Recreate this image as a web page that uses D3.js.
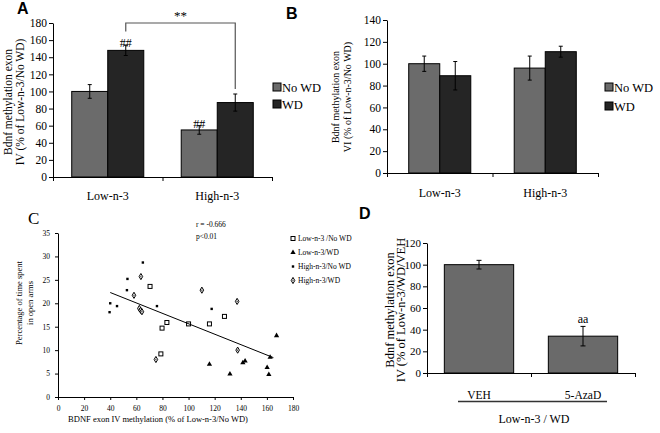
<!DOCTYPE html>
<html>
<head>
<meta charset="utf-8">
<script src="https://cdn.jsdelivr.net/npm/d3@7"></script>
<style>
  body { margin: 0; background: #fff; }
  svg text { font-family: "Liberation Serif", "Times New Roman", serif; fill: #000; }
  .panel-label { font-family: "Liberation Sans", Arial, sans-serif; font-weight: bold; }
</style>
</head>
<body>
<svg id="fig" width="660" height="433"></svg>
<script>
// ---- data ----
const groups = ['Low-n-3', 'High-n-3'];
const diets = ['No WD', 'WD'];
const dietColors = ['#6b6b6b', '#252525'];

// panel A: exon IV methylation (% of Low-n-3/No WD)
const exonIV = [[100, 148], [55, 87]];
const exonIVErr = [[8, 6], [5, 10]];
const exonIVMarks = [['', '##'], ['##', '']];
const ticksA = [0, 20, 40, 60, 80, 100, 120, 140, 160, 180];

// panel B: exon VI methylation
const exonVI = [[100, 89], [96, 111]];
const exonVIErr = [[7, 13], [11, 5]];
const ticksB = [0, 20, 40, 60, 80, 100, 120, 140];

// panel C: scatter, methylation (x) vs % time in open arms (y)
const lowNoWD = [[70.5, 23.6], [83.4, 15.9], [79.7, 14.7], [78.8, 9.2], [100, 15.6], [116, 15.6], [127.5, 17.2]];
const lowWD = [[116, 7.0], [131.7, 4.9], [141.6, 7.3], [143.3, 7.7], [160.2, 6.3], [161.5, 4.8], [162.5, 8.5], [167.4, 13.1]];
const highNoWD = [[65, 28.7], [40, 20.0], [39.5, 18.1], [45.2, 19.4], [53.2, 25.2], [52.8, 22.8], [75.8, 19.4], [117.7, 18.8]];
const highWD = [[63.5, 25.7], [58.2, 21.7], [62.3, 18.9], [63.3, 18.5], [64.3, 18.2], [75, 8.0], [110.2, 22.8], [137.2, 20.4], [137.6, 10.0]];
const trend = [[40, 22.3], [165, 8.4]];
const scatterNames = ['Low-n-3 /No WD', 'Low-n-3/WD', 'High-n-3/No WD', 'High-n-3/WD'];
const ticksCx = [0, 20, 40, 60, 80, 100, 120, 140, 160, 180];
const ticksCy = [0, 5, 10, 15, 20, 25, 30, 35];
const statsC = ['r = -0.666', 'p<0.01'];

// panel D: 5-AzaD treatment
const treatments = ['VEH', '5-AzaD'];
const treatVals = [100, 34];
const treatErr = [4, 9];
const treatMarks = ['', 'aa'];
const ticksD = [0, 20, 40, 60, 80, 100, 120];

const svg = d3.select('#fig');

function yAxis(g, y, ticks, size) {
  g.call(d3.axisLeft(y).tickValues(ticks).tickSize(4).tickSizeOuter(0).tickPadding(2));
  g.selectAll('text').style('font-size', size + 'px').attr('fill', '#000');
  g.selectAll('path,line').attr('stroke', '#000');
}

function catAxis(g, x0, x1, n, yPos) {
  const s = d3.scaleLinear().domain([0, n]).range([x0, x1]);
  g.attr('transform', `translate(0,${yPos})`)
   .call(d3.axisBottom(s).tickValues(d3.range(n + 1)).tickFormat('').tickSize(4).tickSizeOuter(0));
  g.selectAll('path,line').attr('stroke', '#000');
}

function errorBar(g, x, yTop, yBot, cap) {
  g.append('line').attr('x1', x).attr('x2', x).attr('y1', yTop).attr('y2', yBot).attr('stroke', '#000');
  g.append('line').attr('x1', x - cap).attr('x2', x + cap).attr('y1', yTop).attr('y2', yTop).attr('stroke', '#000');
  g.append('line').attr('x1', x - cap).attr('x2', x + cap).attr('y1', yBot).attr('y2', yBot).attr('stroke', '#000');
}

function groupedBars(cfg) {
  const g = svg.append('g');
  const x0 = d3.scaleBand().domain(groups).range(cfg.xRange);
  const x1 = d3.scaleBand().domain(diets).range([0, x0.bandwidth()]).paddingOuter(cfg.pad);
  const y = d3.scaleLinear().domain(cfg.yDomain).range(cfg.yRange);

  groups.forEach((grp, i) => {
    diets.forEach((d, j) => {
      const v = cfg.values[i][j], e = cfg.errors[i][j];
      const bx = x0(grp) + x1(d);
      g.append('rect')
        .attr('x', bx).attr('y', y(v))
        .attr('width', x1.bandwidth()).attr('height', y(0) - y(v))
        .attr('fill', dietColors[j]).attr('stroke', '#000').attr('stroke-width', 1);
      errorBar(g, bx + x1.bandwidth() / 2, y(v + e), y(v - e), 2);
      if (cfg.marks && cfg.marks[i][j]) {
        g.append('text').attr('x', bx + x1.bandwidth() / 2).attr('y', y(v + e) + 2)
          .attr('text-anchor', 'middle').style('font-size', '12px').text(cfg.marks[i][j]);
      }
    });
    g.append('text').attr('x', x0(grp) + x0.bandwidth() / 2).attr('y', cfg.labelY)
      .attr('text-anchor', 'middle').style('font-size', '12px').text(grp);
  });

  yAxis(g.append('g').attr('transform', `translate(${cfg.xRange[0]},0)`), y, cfg.ticks, 11.5);
  catAxis(g.append('g'), cfg.xRange[0], cfg.xRange[1], groups.length, y(0));

  // legend
  diets.forEach((d, j) => {
    const ly = cfg.legendY[j];
    g.append('rect').attr('x', cfg.legendX).attr('y', ly - 4).attr('width', 8).attr('height', 8)
      .attr('fill', dietColors[j]).attr('stroke', '#000');
    g.append('text').attr('x', cfg.legendX + 9).attr('y', ly + 5).style('font-size', '12.5px').text(d);
  });

  // y label
  const lab = g.append('text').attr('transform', `translate(${cfg.yLabelX},${cfg.yLabelMid}) rotate(-90)`)
    .attr('text-anchor', 'middle').style('font-size', cfg.yLabelSize + 'px');
  cfg.yLabel.forEach((t, k) => lab.append('tspan').attr('x', 0).attr('dy', k === 0 ? 0 : cfg.yLabelGap + 'px').text(t));
  return { x0, x1, y, g };
}

// ---- panel A ----
const A = groupedBars({
  xRange: [53, 272], pad: 0.52, yDomain: [0, 180], yRange: [177, 23],
  values: exonIV, errors: exonIVErr, marks: exonIVMarks, ticks: ticksA, labelY: 200,
  legendX: 273, legendY: [87, 104],
  yLabel: ['Bdnf methylation exon', 'IV (% of Low-n-3/No WD)'], yLabelX: 12, yLabelMid: 102, yLabelSize: 11.5, yLabelGap: 12
});
{
  const cx = (i, j) => A.x0(groups[i]) + A.x1(diets[j]) + A.x1.bandwidth() / 2;
  const pts = [[cx(0, 1), A.y(170)], [cx(0, 1), A.y(180)], [cx(1, 1), A.y(180)], [cx(1, 1), A.y(103)]];
  A.g.append('path').attr('d', d3.line()(pts)).attr('fill', 'none').attr('stroke', '#555').attr('stroke-width', 1.2);
  A.g.append('text').attr('x', (pts[1][0] + pts[2][0]) / 2).attr('y', A.y(180) - 3)
    .attr('text-anchor', 'middle').style('font-size', '13px').text('**');
}
svg.append('text').attr('class', 'panel-label').attr('x', 17).attr('y', 14).style('font-size', '16px').text('A');

// ---- panel B ----
groupedBars({
  xRange: [387, 598], pad: 0.70, yDomain: [0, 140], yRange: [173, 20],
  values: exonVI, errors: exonVIErr, ticks: ticksB, labelY: 197,
  legendX: 605, legendY: [87, 106],
  yLabel: ['Bdnf methylation exon', 'VI (% of Low-n-3/No WD)'], yLabelX: 339, yLabelMid: 97, yLabelSize: 10, yLabelGap: 12
});
svg.append('text').attr('class', 'panel-label').attr('x', 286).attr('y', 19).style('font-size', '16px').text('B');

// ---- panel C ----
{
  const g = svg.append('g');
  const x = d3.scaleLinear().domain([0, 180]).range([58, 293]);
  const y = d3.scaleLinear().domain([0, 35]).range([397, 233]);

  g.append('g').attr('transform', `translate(0,${y(0)})`)
    .call(d3.axisBottom(x).tickValues(ticksCx).tickSize(3).tickSizeOuter(0).tickPadding(6))
    .call(a => a.selectAll('text').style('font-size', '7.5px'));
  g.append('g').attr('transform', `translate(${x(0)},0)`)
    .call(d3.axisLeft(y).tickValues(ticksCy).tickSize(3).tickSizeOuter(0).tickPadding(5))
    .call(a => a.selectAll('text').style('font-size', '7.5px'));
  g.selectAll('path.domain, .tick line').attr('stroke', '#000');

  const markers = [
    (s, px, py) => s.append('rect').attr('x', px - 2).attr('y', py - 2).attr('width', 4).attr('height', 4)
      .attr('fill', '#fff').attr('stroke', '#000').attr('stroke-width', 1),
    (s, px, py) => s.append('path').attr('d', d3.symbol(d3.symbolTriangle, 12)()).attr('transform', `translate(${px},${py})`).attr('fill', '#000'),
    (s, px, py) => s.append('rect').attr('x', px - 1.2).attr('y', py - 1.2).attr('width', 2.4).attr('height', 2.4).attr('fill', '#000'),
    (s, px, py) => {
      s.append('path').attr('d', d3.symbol(d3.symbolDiamond, 11)()).attr('transform', `translate(${px},${py})`)
        .attr('fill', '#fff').attr('stroke', '#000').attr('stroke-width', 1);
      s.append('circle').attr('cx', px).attr('cy', py).attr('r', 0.6).attr('fill', '#000');
    }
  ];
  [lowNoWD, lowWD, highNoWD, highWD].forEach((series, k) => {
    series.forEach(p => markers[k](g, x(p[0]), y(p[1])));
  });

  g.append('path').attr('d', d3.line().x(d => x(d[0])).y(d => y(d[1]))(trend))
    .attr('stroke', '#000').attr('stroke-width', 1).attr('fill', 'none');

  statsC.forEach((t, k) => g.append('text').attr('x', 196).attr('y', 227 + k * 12).style('font-size', '7.5px').text(t));

  scatterNames.forEach((t, k) => {
    const ly = 241 + k * 14;
    markers[k](g, 293, ly - 2.5);
    g.append('text').attr('x', 298).attr('y', ly).style('font-size', '7.5px').text(t);
  });

  const yl = g.append('text').attr('transform', `translate(22,303) rotate(-90)`)
    .attr('text-anchor', 'middle').style('font-size', '8.5px');
  ['Percentage of time spent', 'in open arms'].forEach((t, k) => yl.append('tspan').attr('x', 0).attr('dy', k ? '1.3em' : 0).text(t));
  g.append('text').attr('x', 158).attr('y', 422).attr('text-anchor', 'middle').style('font-size', '8.5px')
    .text('BDNF exon IV methylation (% of Low-n-3/No WD)');
  g.append('text').attr('x', 28).attr('y', 224).style('font-size', '17px').text('C');
}

// ---- panel D ----
{
  const g = svg.append('g');
  const x = d3.scaleBand().domain(treatments).range([427, 635]).paddingInner(0);
  const y = d3.scaleLinear().domain([0, 120]).range([373, 243]);
  const inner = d3.scaleBand().domain([0]).range([0, x.bandwidth()]).paddingOuter(0.25);

  treatments.forEach((t, i) => {
    const bx = x(t) + inner(0), bw = inner.bandwidth();
    g.append('rect').attr('x', bx).attr('y', y(treatVals[i])).attr('width', bw).attr('height', y(0) - y(treatVals[i]))
      .attr('fill', '#6a6a6a').attr('stroke', '#000');
    errorBar(g, bx + bw / 2, y(treatVals[i] + treatErr[i]), y(treatVals[i] - treatErr[i]), 2.5);
    if (treatMarks[i]) g.append('text').attr('x', bx + bw / 2).attr('y', y(treatVals[i] + treatErr[i]) - 3)
      .attr('text-anchor', 'middle').style('font-size', '12px').text(treatMarks[i]);
    g.append('text').attr('x', bx + bw / 2).attr('y', 399).attr('text-anchor', 'middle').style('font-size', '11.5px').text(t);
  });
  yAxis(g.append('g').attr('transform', 'translate(427,0)'), y, ticksD, 11);
  catAxis(g.append('g'), 427, 635, treatments.length, y(0));

  g.append('line').attr('x1', 458).attr('x2', 607).attr('y1', 401.5).attr('y2', 401.5).attr('stroke', '#333').attr('stroke-width', 1.5);
  g.append('text').attr('x', 534).attr('y', 423).attr('text-anchor', 'middle').style('font-size', '12px').text('Low-n-3 / WD');

  const yl = g.append('text').attr('transform', `translate(394,310) rotate(-90)`)
    .attr('text-anchor', 'middle').style('font-size', '12.5px');
  ['Bdnf methylation exon', 'IV (% of Low-n-3/WD/VEH'].forEach((t, k) => yl.append('tspan').attr('x', 0).attr('dy', k ? '11px' : 0).text(t));
  svg.append('text').attr('class', 'panel-label').attr('x', 359).attr('y', 219).style('font-size', '16px').text('D');
}
</script>
</body>
</html>
